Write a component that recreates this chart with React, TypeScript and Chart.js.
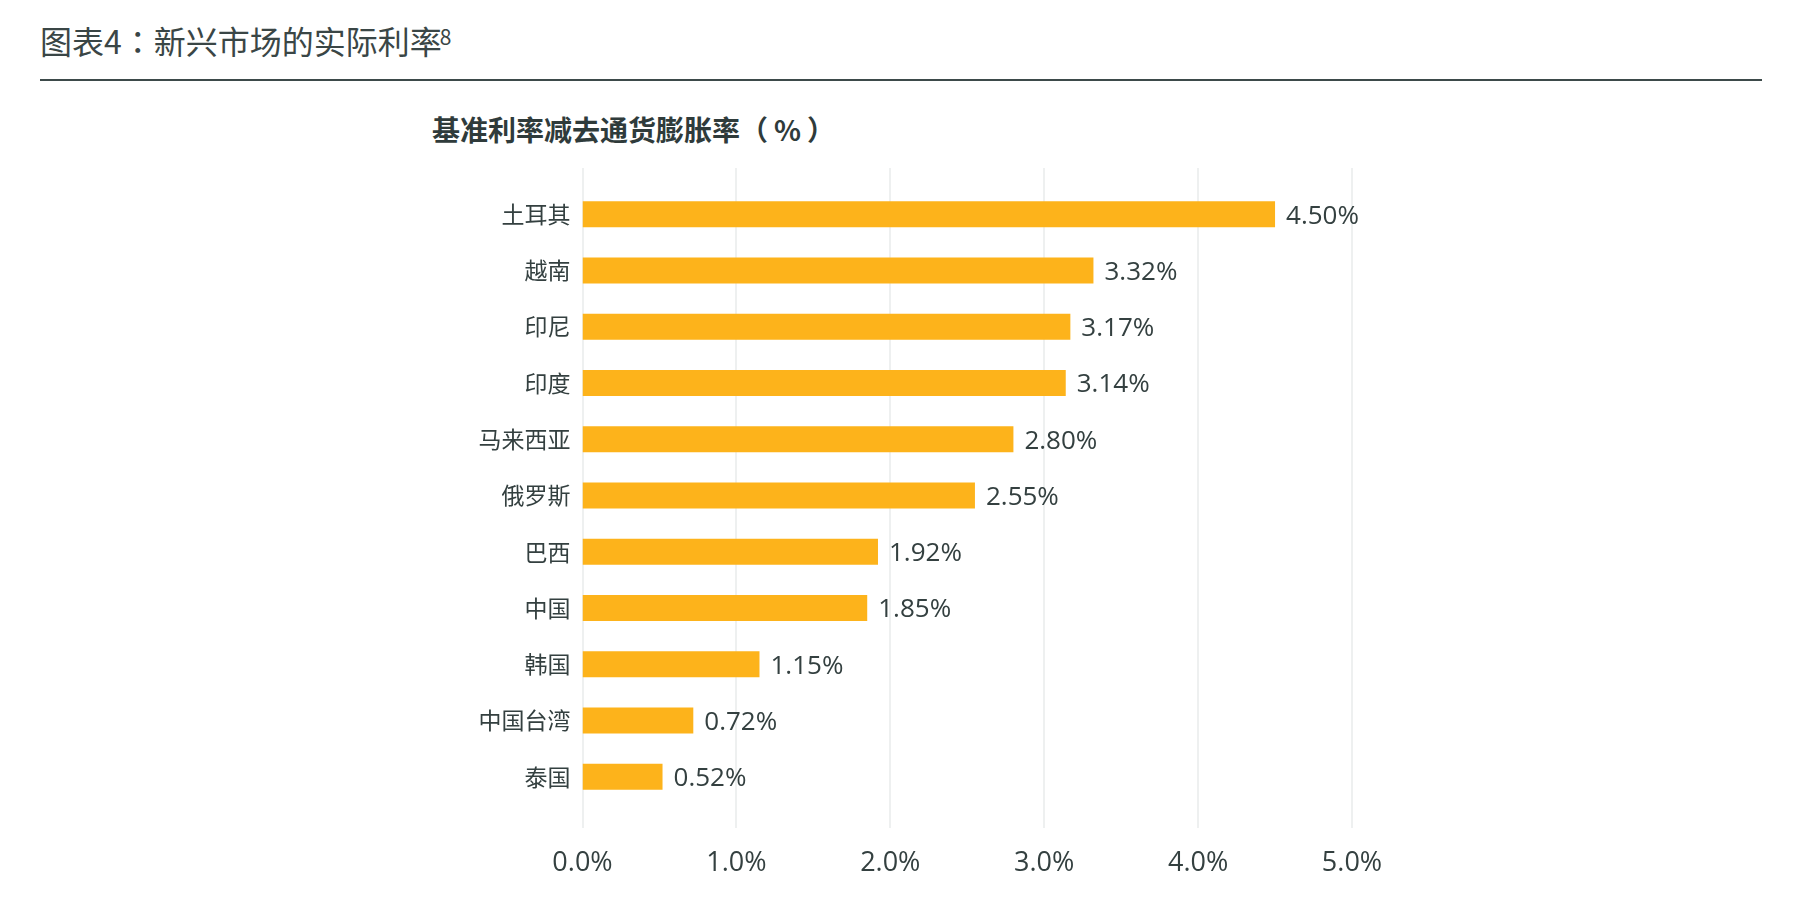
import React, { useEffect, useRef } from "react";
import { Chart, registerables } from "chart.js";

Chart.register(...registerables);

const titleHead = "图表4";
const titleColon = "：";
const titleTail = "新兴市场的实际利率";
const titleNote = "8";
const subtitleMain = "基准利率减去通货膨胀率";
const subtitleUnit = "%";
const categories = ["土耳其", "越南", "印尼", "印度", "马来西亚", "俄罗斯", "巴西", "中国", "韩国", "中国台湾", "泰国"];
const realRates = [4.5, 3.32, 3.17, 3.14, 2.8, 2.55, 1.92, 1.85, 1.15, 0.72, 0.52];
const xTickValues = [0, 1, 2, 3, 4, 5];

const BAR_COLOR = "#FDB31B";
const TEXT_COLOR = "#344040";
const GRID_COLOR = "#eef0f0";
const LATIN_FONT = '"Open Sans", "Noto Sans CJK SC", sans-serif';
const CJK_FONT = '"Noto Sans CJK SC", sans-serif';

const gridPlugin = {
  id: "extendedGrid",
  beforeDatasetsDraw(chart: any) {
    const { ctx, chartArea, scales } = chart;
    const x = scales.x;
    ctx.save();
    ctx.strokeStyle = GRID_COLOR;
    ctx.lineWidth = 2;
    xTickValues.forEach((v) => {
      const px = Math.round(x.getPixelForValue(v));
      ctx.beginPath();
      ctx.moveTo(px, chartArea.top - 18);
      ctx.lineTo(px, chartArea.bottom + 23);
      ctx.stroke();
    });
    ctx.restore();
  },
};

const valueLabelPlugin = {
  id: "valueLabels",
  afterDatasetsDraw(chart: any) {
    const { ctx } = chart;
    const meta = chart.getDatasetMeta(0);
    ctx.save();
    ctx.fillStyle = TEXT_COLOR;
    ctx.font = `26px ${LATIN_FONT}`;
    ctx.textAlign = "left";
    ctx.textBaseline = "middle";
    meta.data.forEach((el: any, i: number) => {
      ctx.fillText(realRates[i].toFixed(2) + "%", el.x + 11, el.y + 2);
    });
    ctx.restore();
  },
};

function RatesChart() {
  const ref = useRef<HTMLCanvasElement | null>(null);
  useEffect(() => {
    if (!ref.current) return;
    const chart = new Chart(ref.current, {
      type: "bar",
      data: {
        labels: categories,
        datasets: [
          {
            data: realRates,
            backgroundColor: BAR_COLOR,
            borderWidth: 0,
            barPercentage: 0.462,
            categoryPercentage: 1,
          },
        ],
      },
      options: {
        indexAxis: "y",
        animation: false,
        responsive: false,
        maintainAspectRatio: false,
        layout: { padding: { top: 186, right: 449, bottom: 0, left: 0 } },
        plugins: {
          legend: { display: false },
          tooltip: { enabled: false },
          title: { display: false },
        },
        scales: {
          x: {
            type: "linear",
            min: 0,
            max: 5,
            grid: { display: false },
            border: { display: false },
            afterBuildTicks: (s: any) => {
              s.ticks = xTickValues.map((v) => ({ value: v }));
            },
            afterFit: (s: any) => {
              s.height = 101;
            },
            ticks: {
              padding: 34,
              color: TEXT_COLOR,
              font: { family: LATIN_FONT, size: 27 },
              callback: (v: any) => Number(v).toFixed(1) + "%",
            },
          },
          y: {
            type: "category",
            grid: { display: false },
            border: { display: false },
            afterFit: (s: any) => {
              s.width = 582.5;
            },
            ticks: {
              padding: 4,
              color: TEXT_COLOR,
              font: { family: CJK_FONT, size: 23 },
            },
          },
        },
      },
      plugins: [gridPlugin, valueLabelPlugin],
    } as any);
    return () => chart.destroy();
  }, []);
  return (
    <canvas
      ref={ref}
      width={1801}
      height={906}
      style={{ position: "absolute", left: 0, top: 0, width: 1801, height: 906 }}
    />
  );
}

export default function App() {
  return (
    <div
      style={{
        position: "fixed",
        left: 0,
        top: 0,
        width: 1801,
        height: 906,
        background: "#ffffff",
        overflow: "hidden",
      }}
    >
      <div
        style={{
          position: "absolute",
          left: 40,
          top: 24,
          fontFamily: CJK_FONT,
          fontSize: 32,
          lineHeight: "32px",
          color: "#3a4646",
          whiteSpace: "nowrap",
        }}
      >
        {titleHead}
        <span style={{ fontFamily: '"Noto Sans CJK TC", "Noto Sans CJK SC", sans-serif' }}>{titleColon}</span>
        {titleTail}
        <span style={{ fontSize: 21, verticalAlign: "top", position: "relative", top: -4, marginLeft: -2 }}>
          {titleNote}
        </span>
      </div>
      <div
        style={{
          position: "absolute",
          left: 40,
          top: 79,
          width: 1722,
          height: 2,
          background: "#3d4a4a",
        }}
      />
      <div
        style={{
          position: "absolute",
          left: 432,
          top: 115,
          fontFamily: CJK_FONT,
          fontSize: 28,
          fontWeight: 700,
          lineHeight: "28px",
          color: "#2f3b3b",
          whiteSpace: "nowrap",
        }}
      >
        {subtitleMain}（<span style={{ margin: "0 6px" }}>{subtitleUnit}</span>）
      </div>
      <RatesChart />
    </div>
  );
}
